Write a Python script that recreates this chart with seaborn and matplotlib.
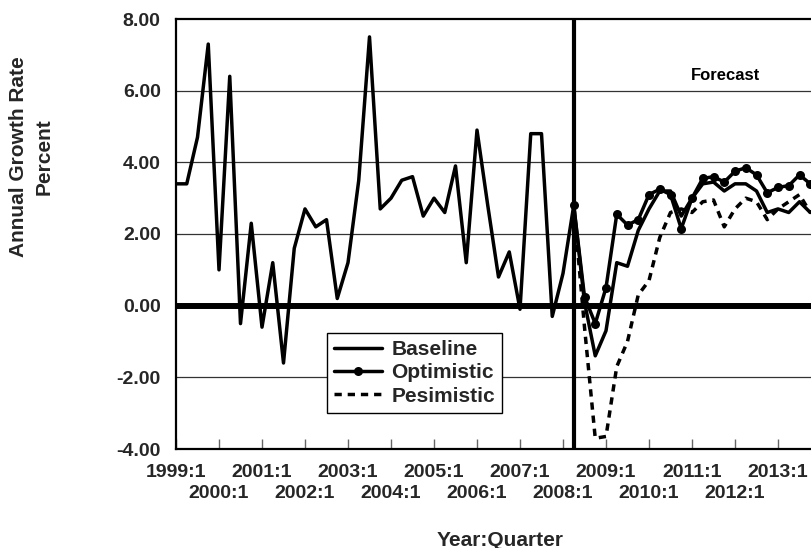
"""Annual growth rate by quarter: history plus baseline / optimistic / pessimistic forecast."""

import matplotlib
matplotlib.use("Agg")
import matplotlib.pyplot as plt
import numpy as np
import pandas as pd
import seaborn as sns

# ---------------------------------------------------------------------------
# Data
# ---------------------------------------------------------------------------

years = list(range(1999, 2014))
quarters = [f"{y}:{q}" for y in years for q in range(1, 5)]

baseline = [3.4, 3.4, 4.7, 7.3, 1.0, 6.4, -0.5, 2.3, -0.6, 1.2,
            -1.6, 1.6, 2.7, 2.2, 2.4, 0.2, 1.2, 3.5, 7.5, 2.7,
            3.0, 3.5, 3.6, 2.5, 3.0, 2.6, 3.9, 1.2, 4.9, 2.8,
            0.8, 1.5, -0.1, 4.8, 4.8, -0.3, 0.9, 2.8, 0.1, -1.4,
            -0.7, 1.2, 1.1, 2.1, 2.7, 3.2, 3.2, 2.5, 3.0, 3.4,
            3.45, 3.2, 3.4, 3.4, 3.2, 2.6, 2.7, 2.6, 2.9, 2.6]

forecast_start = "2008:2"
optimistic = [2.8, 0.25, -0.5, 0.5, 2.55, 2.25, 2.4, 3.1, 3.25, 3.1,
              2.15, 3.0, 3.55, 3.6, 3.45, 3.75, 3.85, 3.65, 3.15, 3.3,
              3.35, 3.65, 3.4]
pessimistic = [2.8, -0.6, -3.7, -3.65, -1.7, -1.0, 0.3, 0.7, 1.9, 2.6,
               2.7, 2.6, 2.9, 2.95, 2.2, 2.7, 3.0, 2.9, 2.4, 2.7,
               2.9, 3.1, 2.6]

y_ticks = [-4, -2, 0, 2, 4, 6, 8]

# ---------------------------------------------------------------------------
# Plot
# ---------------------------------------------------------------------------

sns.set_theme(style="white")
plt.rcParams["font.family"] = ["Liberation Sans", "DejaVu Sans"]
plt.rcParams["font.weight"] = "bold"

idx = np.arange(len(quarters))
start = quarters.index(forecast_start)
df_base = pd.DataFrame({"q": idx, "v": baseline})
df_opt = pd.DataFrame({"q": idx[start:start + len(optimistic)], "v": optimistic})
df_pes = pd.DataFrame({"q": idx[start:start + len(pessimistic)], "v": pessimistic})

fig = plt.figure(figsize=(8.12, 5.48), dpi=100)
ax = fig.add_axes([176 / 812, 99 / 548, 648 / 812, 430 / 548])

# grid, zero line and forecast divider
for y in y_ticks:
    if y not in (-4, 0, 8):
        ax.axhline(y, color="#333333", linewidth=0.9, zorder=1)
ax.axhline(0, color="black", linewidth=4.3, zorder=2)
ax.axvline(start, color="black", linewidth=3, zorder=2)

lw = 2.5
sns.lineplot(data=df_base, x="q", y="v", ax=ax, color="black", linewidth=lw,
             label="Baseline", zorder=4)
sns.lineplot(data=df_opt, x="q", y="v", ax=ax, color="black", linewidth=lw,
             marker="o", markersize=6.5, markeredgewidth=0, label="Optimistic", zorder=5)
sns.lineplot(data=df_pes, x="q", y="v", ax=ax, color="black", linewidth=lw,
             dashes=(2.1, 1.7), label="Pesimistic", zorder=3)

ax.text(51.1, 6.42, "Forecast", ha="center", va="center", fontsize=12,
        fontweight="bold", color="black")

ax.set_xlim(0, 648 / 10.75)
ax.set_ylim(-4, 8)

# year ticks, labels staggered on two rows
tick_idx = idx[::4]
ax.set_xticks(tick_idx)
ax.set_xticklabels(quarters[::4], fontsize=14, fontweight="bold")
ax.tick_params(axis="x", direction="in", length=7, width=1, color="#666666",
               pad=11, bottom=True)
for k, tick in enumerate(ax.xaxis.get_major_ticks()):
    if k % 2 == 1:
        tick.set_pad(26)

ax.set_yticks(y_ticks)
ax.set_yticklabels([f"{v:.2f}" for v in y_ticks], fontsize=14, fontweight="bold")
ax.tick_params(axis="y", length=0, pad=11)

ax.set_xlabel("")
ax.set_ylabel("")
fig.text(500 / 812, 1 - 540 / 548, "Year:Quarter", ha="center", va="center",
         fontsize=15, fontweight="bold")
fig.text(31 / 812, 1 - 157 / 548, "Annual Growth Rate\nPercent", rotation=90,
         ha="center", va="center", multialignment="center", fontsize=15,
         fontweight="bold", linespacing=1.45)

for side in ("top", "left", "bottom"):
    ax.spines[side].set_color("black")
    ax.spines[side].set_linewidth(1.6)
ax.spines["right"].set_visible(False)

leg = ax.legend(loc="upper left", bbox_to_anchor=(327 / 812, 1 - 333 / 548),
                bbox_transform=fig.transFigure, borderaxespad=0, fancybox=False,
                framealpha=1, edgecolor="black", fontsize=15, handlelength=2.3,
                handletextpad=0.45, labelspacing=0.2, borderpad=0.35)
leg.get_frame().set_linewidth(1.0)
for t in leg.get_texts():
    t.set_fontweight("bold")

fig.savefig("out.png", dpi=100)
plt.close(fig)
